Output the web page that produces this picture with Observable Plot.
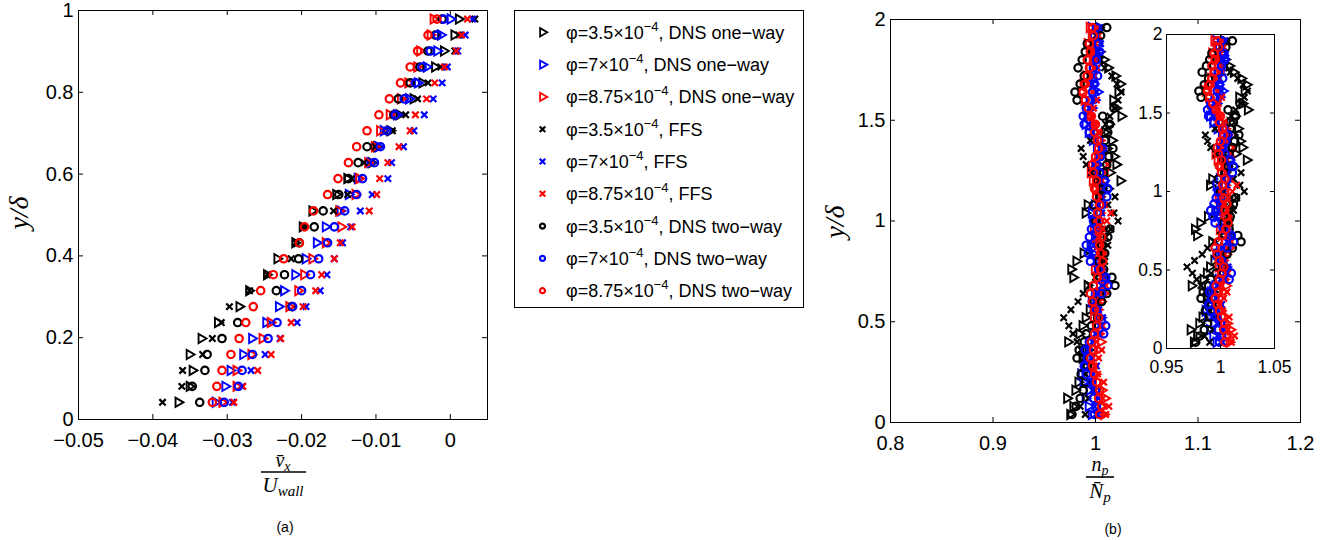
<!DOCTYPE html>
<html><head><meta charset="utf-8">
<script src="https://cdn.jsdelivr.net/npm/d3@7"></script>
<script src="https://cdn.jsdelivr.net/npm/@observablehq/plot@0.6"></script>
<style>
html,body{margin:0;padding:0;background:#fff;}
#wrap{position:relative;width:1339px;height:540px;overflow:hidden;background:#fff;}
</style></head><body><div id="wrap"></div>
<script>
// ---------- Panel (a): y/delta rows and mean streamwise velocity ----------
const yA = [0.042,0.081,0.120,0.159,0.198,0.237,0.276,0.315,0.354,0.393,0.432,0.471,0.510,0.550,0.589,0.628,0.667,0.706,0.745,0.784,0.823,0.862,0.901,0.940,0.979];
const aTriBlack = [-0.0366,-0.0351,-0.0347,-0.0351,-0.0335,-0.0313,-0.0284,-0.0271,-0.0247,-0.0233,-0.0209,-0.0199,-0.0186,-0.0154,-0.0139,-0.0106,-0.0099,-0.0081,-0.0069,-0.0050,-0.0038,-0.0021,-0.0009,0.0005,0.0011];
const aTriBlue  = [-0.0316,-0.0303,-0.0296,-0.0279,-0.0267,-0.0248,-0.0231,-0.0224,-0.0209,-0.0195,-0.0180,-0.0168,-0.0148,-0.0137,-0.0125,-0.0108,-0.0097,-0.0090,-0.0072,-0.0056,-0.0044,-0.0032,-0.0018,-0.0013,0.0000];
const aTriRed   = [-0.0307,-0.0288,-0.0288,-0.0268,-0.0253,-0.0242,-0.0217,-0.0205,-0.0197,-0.0186,-0.0168,-0.0147,-0.0150,-0.0128,-0.0123,-0.0111,-0.0102,-0.0095,-0.0082,-0.0067,-0.0057,-0.0045,-0.0041,-0.0027,-0.0023];
const aXBlack   = [-0.0387,-0.0361,-0.0360,-0.0333,-0.0320,-0.0308,-0.0297,-0.0270,-0.0246,-0.0214,-0.0208,-0.0197,-0.0157,-0.0138,-0.0133,-0.0116,-0.0101,-0.0078,-0.0060,-0.0044,-0.0030,-0.0013,0.0006,0.0011,0.0033];
const aXBlue    = [-0.0293,-0.0280,-0.0268,-0.0249,-0.0229,-0.0206,-0.0194,-0.0175,-0.0166,-0.0156,-0.0145,-0.0134,-0.0121,-0.0105,-0.0084,-0.0079,-0.0063,-0.0049,-0.0035,-0.0023,-0.0011,-0.0004,0.0010,0.0020,0.0030];
const aXRed     = [-0.0291,-0.0279,-0.0259,-0.0241,-0.0228,-0.0214,-0.0198,-0.0181,-0.0173,-0.0156,-0.0148,-0.0132,-0.0109,-0.0099,-0.0095,-0.0084,-0.0069,-0.0054,-0.0047,-0.0032,-0.0021,-0.0008,0.0008,0.0015,0.0023];
const aCircBlack= [-0.0337,-0.0347,-0.0330,-0.0327,-0.0307,-0.0286,-0.0213,-0.0234,-0.0223,-0.0204,-0.0203,-0.0183,-0.0171,-0.0150,-0.0137,-0.0124,-0.0112,-0.0085,-0.0076,-0.0070,-0.0054,-0.0041,-0.0030,-0.0020,-0.0011];
const aCircBlue = [-0.0304,-0.0285,-0.0280,-0.0266,-0.0245,-0.0233,-0.0212,-0.0200,-0.0188,-0.0177,-0.0165,-0.0156,-0.0142,-0.0126,-0.0118,-0.0102,-0.0094,-0.0085,-0.0074,-0.0062,-0.0047,-0.0038,-0.0027,-0.0018,-0.0009];
const aCircRed  = [-0.0320,-0.0314,-0.0307,-0.0295,-0.0284,-0.0275,-0.0265,-0.0255,-0.0238,-0.0224,-0.0203,-0.0196,-0.0184,-0.0165,-0.0151,-0.0137,-0.0126,-0.0112,-0.0096,-0.0082,-0.0067,-0.0054,-0.0044,-0.0030,-0.0018];

// ---------- Panel (b): y/delta rows and normalised concentration ----------
const yB = [0.04,0.08,0.12,0.16,0.20,0.24,0.28,0.32,0.36,0.40,0.44,0.48,0.52,0.56,0.60,0.64,0.68,0.72,0.76,0.80,0.84,0.88,0.92,0.96,1.00,1.04,1.08,1.12,1.16,1.20,1.24,1.28,1.32,1.36,1.40,1.44,1.48,1.52,1.56,1.60,1.64,1.68,1.72,1.76,1.80,1.84,1.88,1.92,1.96];
const bTriBlack = [0.975,0.978,0.972,0.980,0.983,0.986,0.989,0.987,0.993,0.973, 0.984,0.987,0.990,0.994,0.998,1.003,0.992,0.978,0.976,0.981, 0.988,0.995,1.001,1.006,0.998,0.990,0.992,1.004,1.012,1.024, 1.014,1.020,1.018,1.011,1.016,1.009,1.013,1.025,1.020,1.017, 1.022,1.024,1.019,1.012,1.008,1.004,1.001,0.998,1.003];
const bTriBlue  = [0.996,0.993,0.990,0.994,0.988,0.986,0.990,0.993,0.991,0.995, 0.998,1.002,1.005,1.000,0.996,0.999,1.004,1.008,1.005,1.001, 0.997,0.995,0.999,1.002,1.000,0.996,0.999,1.003,1.006,1.008, 1.005,1.002,1.004,1.001,0.997,0.993,0.990,0.992,0.996,0.999, 1.002,0.998,0.995,0.997,1.000,1.003,1.001,0.998,0.996];
const bTriRed   = [1.008,1.005,1.009,1.006,1.003,1.000,0.997,0.999,1.002,1.005, 1.003,1.000,0.998,1.002,1.005,1.008,1.004,1.001,0.999,1.003, 1.006,1.002,1.000,0.998,1.001,1.004,1.007,1.003,1.000,0.997, 0.995,0.999,1.002,1.006,1.004,1.001,0.997,0.994,0.991,0.989, 0.986,0.988,0.991,0.994,0.997,0.995,0.992,0.996,0.994];
const bXBlack   = [0.990,0.985,0.993,0.998,0.995,0.990,0.994,0.989,0.986,0.982, 0.978,0.974,0.969,0.976,0.983,0.988,0.994,1.000,1.004,1.009, 1.007,1.012,1.010,1.015,1.022,1.018,1.012,1.019,1.008,1.004, 0.996,0.991,0.988,0.986,0.995,1.003,1.010,1.014,1.019,1.022, 1.025,1.021,1.016,1.009,1.005,1.002,0.998,1.001,1.006];
const bXBlue    = [1.002,0.999,1.003,0.997,0.994,0.998,1.001,0.996,0.993,0.997, 1.000,1.004,1.007,1.003,0.999,1.002,1.006,1.009,1.004,1.000, 0.996,0.998,1.001,0.999,1.003,1.006,1.002,1.005,1.009,1.006, 1.002,0.999,1.003,1.006,1.001,0.997,0.993,0.991,0.994,0.998, 1.001,0.997,0.999,1.002,1.000,1.003,1.005,1.002,1.004];
const bXRed     = [1.010,1.013,1.007,1.004,1.008,1.002,0.999,1.003,1.006,1.001, 1.004,1.007,1.003,1.000,1.004,1.007,1.010,1.006,1.002,1.005, 1.008,1.006,1.003,1.007,1.011,1.015,1.009,1.005,1.002,1.006, 1.010,1.012,1.008,1.004,1.001,1.003,0.999,0.996,0.998,1.001, 0.997,0.994,0.998,1.001,0.999,0.996,1.000,1.003,1.001];
const bCircBlack= [0.977,0.981,0.985,0.988,0.990,0.986,0.992,0.982,0.984,0.989, 0.991,0.996,1.002,0.999,1.006,1.011,1.019,1.016,1.008,1.003, 1.009,1.006,1.012,1.014,1.000,1.003,0.998,1.004,1.007,1.002, 1.008,1.011,1.013,1.017,1.009,1.012,1.014,1.007,1.018,0.982, 0.980,0.985,0.989,0.983,0.987,0.990,0.992,1.005,1.011];
const bCircBlue = [0.999,1.001,0.998,1.000,0.996,0.991,0.989,0.992,0.990,0.994, 1.008,1.010,1.004,1.001,0.997,1.006,1.012,1.010,1.003,0.995, 0.993,0.991,0.994,0.996,0.998,1.003,1.006,1.011,1.012,1.009, 1.004,1.001,1.005,1.007,1.003,0.994,0.989,0.988,0.991,0.995, 0.997,0.999,1.002,0.998,1.001,1.004,1.003,0.999,1.001];
const bCircRed  = [1.004,1.006,1.003,1.004,1.001,0.999,0.997,0.995,0.998,0.996, 0.999,1.001,1.003,0.999,0.997,0.995,0.998,1.002,1.005,1.007, 1.005,1.004,1.006,1.003,1.004,1.002,1.004,1.001,0.999,1.001, 0.998,0.997,1.000,1.003,1.002,0.999,1.000,0.996,0.993,0.990, 0.988,0.990,0.992,0.994,0.992,0.995,0.994,0.998,0.997];

// ---------- ticks and legend text ----------
const xTicksA = [-0.05,-0.04,-0.03,-0.02,-0.01,0];
const yTicksA = [0,0.2,0.4,0.6,0.8,1];
const xTicksB = [0.8,0.9,1,1.1,1.2];
const yTicksB = [0,0.5,1,1.5,2];
const xTicksInset = [0.95,1,1.05];
const yTicksInset = [0,0.5,1,1.5,2];
const legendPhi = ["3.5","7","8.75","3.5","7","8.75","3.5","7","8.75"];
const legendMethod = ["DNS one\u2212way","DNS one\u2212way","DNS one\u2212way","FFS","FFS","FFS","DNS two\u2212way","DNS two\u2212way","DNS two\u2212way"];

const COL = {black:"#000000", blue:"#0000ff", red:"#ff0000"};
const seriesA = [
  ["tri","black",aTriBlack],["tri","blue",aTriBlue],["tri","red",aTriRed],
  ["x","black",aXBlack],["x","blue",aXBlue],["x","red",aXRed],
  ["circ","black",aCircBlack],["circ","blue",aCircBlue],["circ","red",aCircRed]];
const seriesB = [
  ["tri","black",bTriBlack],["tri","blue",bTriBlue],["tri","red",bTriRed],
  ["x","black",bXBlack],["x","blue",bXBlue],["x","red",bXRed],
  ["circ","black",bCircBlack],["circ","blue",bCircBlue],["circ","red",bCircRed]];

const FONT = "'Liberation Sans', Arial, Helvetica, sans-serif";
const fmt = d => (d < 0 ? "\u2212" : "") + String(+Math.abs(d).toFixed(4));

function dots(ys, vals, sym, color) {
  const data = vals.map((v, i) => ({x: v, y: ys[i]}));
  const base = {x: "x", y: "y", stroke: COL[color], fill: "none"};
  if (sym === "tri") return Plot.dot(data, {...base, symbol: d3.symbolTriangle, rotate: 90, r: 3.4, strokeWidth: 1.9});
  if (sym === "x") return Plot.dot(data, {...base, symbol: d3.symbolTimes, r: 3.0, strokeWidth: 2.2});
  return Plot.dot(data, {...base, symbol: d3.symbolCircle, r: 3.7, strokeWidth: 2.2});
}
function boxTicks(xt, yt, W, H, len) {
  return [
    Plot.tickX(xt, {x: d => d, insetTop: H - len, stroke: "black"}),
    Plot.tickX(xt, {x: d => d, insetBottom: H - len, stroke: "black"}),
    Plot.tickY(yt, {y: d => d, insetRight: W - len, stroke: "black"}),
    Plot.tickY(yt, {y: d => d, insetLeft: W - len, stroke: "black"})
  ];
}
function panel({left, right, top, bottom, xd, yd, xt, yt, series, ys, fs, padX, padY, tickLen, bg}) {
  const W = right - left, H = bottom - top;
  return Plot.plot({
    width: 1339, height: 540,
    marginLeft: left, marginRight: 1339 - right, marginTop: top, marginBottom: 540 - bottom,
    x: {domain: xd}, y: {domain: yd},
    style: {position: "absolute", left: "0px", top: "0px", background: "transparent", overflow: "visible", fontSize: fs + "px", fontFamily: FONT, color: "black"},
    marks: [
      bg ? Plot.frame({fill: "white"}) : null,
      ...series.map(([s, c, v]) => dots(ys, v, s, c)),
      ...boxTicks(xt, yt, W, H, tickLen),
      Plot.frame({stroke: "black", strokeWidth: 1}),
      Plot.axisX({ticks: xt, tickSize: 0, tickPadding: padX, tickFormat: fmt, label: null}),
      Plot.axisY({ticks: yt, tickSize: 0, tickPadding: padY, tickFormat: fmt, label: null})
    ]
  });
}

const wrap = document.getElementById("wrap");
wrap.appendChild(panel({left: 78, right: 487, top: 10, bottom: 419, xd: [-0.05, 0.005], yd: [0, 1], xt: xTicksA, yt: yTicksA, series: seriesA, ys: yA, fs: 20, padX: 13, padY: 5, tickLen: 5}));
wrap.appendChild(panel({left: 890, right: 1300, top: 19, bottom: 422, xd: [0.8, 1.2], yd: [0, 2], xt: xTicksB, yt: yTicksB, series: seriesB, ys: yB, fs: 20, padX: 13, padY: 5, tickLen: 5}));
wrap.appendChild(panel({left: 1166, right: 1274, top: 34, bottom: 348, xd: [0.95, 1.05], yd: [0, 2], xt: xTicksInset, yt: yTicksInset, series: seriesB, ys: yB, fs: 17.5, padX: 12, padY: 4, tickLen: 4, bg: true}));

// ---------- overlay: axis titles, captions, legend ----------
const ov = d3.select(wrap).append("svg")
  .attr("width", 1339).attr("height", 540)
  .style("position", "absolute").style("left", "0px").style("top", "0px");
const SERIF = "'Liberation Serif', 'Times New Roman', serif";

function ylab(x, y) {
  ov.append("text").attr("transform", `translate(${x},${y}) rotate(-90)`)
    .attr("text-anchor", "middle").attr("font-family", SERIF).attr("font-style", "italic")
    .attr("font-size", 28).text("y/\u03b4");
}
ylab(28, 213);
ylab(844, 222);

// (a) fraction
let t = ov.append("text").attr("x", 283).attr("y", 467).attr("text-anchor", "middle")
  .attr("font-family", SERIF).attr("font-style", "italic").attr("font-size", 20);
t.append("tspan").text("v\u0304");
t.append("tspan").attr("font-size", 14).attr("dy", 4).text("x");
ov.append("line").attr("x1", 261).attr("x2", 306).attr("y1", 472).attr("y2", 472).attr("stroke", "black").attr("stroke-width", 1.6);
t = ov.append("text").attr("x", 283).attr("y", 492).attr("text-anchor", "middle")
  .attr("font-family", SERIF).attr("font-style", "italic").attr("font-size", 21);
t.append("tspan").text("U");
t.append("tspan").attr("font-size", 15).attr("dy", 4).text("wall");

// (b) fraction
t = ov.append("text").attr("x", 1100).attr("y", 471).attr("text-anchor", "middle")
  .attr("font-family", SERIF).attr("font-style", "italic").attr("font-size", 20);
t.append("tspan").text("n");
t.append("tspan").attr("font-size", 14).attr("dy", 4).text("p");
ov.append("line").attr("x1", 1086).attr("x2", 1114).attr("y1", 477).attr("y2", 477).attr("stroke", "black").attr("stroke-width", 1.6);
t = ov.append("text").attr("x", 1100).attr("y", 498).attr("text-anchor", "middle")
  .attr("font-family", SERIF).attr("font-style", "italic").attr("font-size", 21);
t.append("tspan").text("N\u0304");
t.append("tspan").attr("font-size", 15).attr("dy", 4).text("p");

// captions
ov.append("text").attr("x", 285).attr("y", 532).attr("text-anchor", "middle").attr("font-family", FONT).attr("font-size", 14).text("(a)");
ov.append("text").attr("x", 1113).attr("y", 534).attr("text-anchor", "middle").attr("font-family", FONT).attr("font-size", 14).text("(b)");

// legend
const lg = ov.append("g");
lg.append("rect").attr("x", 514.5).attr("y", 10.5).attr("width", 289).attr("height", 297)
  .attr("fill", "white").attr("stroke", "black").attr("stroke-width", 1);
seriesA.forEach(([sym, color], k) => {
  const cy = 32.3 + 32.3 * k;
  let path, rot = 0, sw = 1.8;
  if (sym === "tri") { path = d3.symbol(d3.symbolTriangle, 30)(); rot = 90; }
  else if (sym === "x") { path = d3.symbol(d3.symbolTimes, 22)(); sw = 2.2; }
  else { path = d3.symbol(d3.symbolCircle, 20)(); sw = 2.2; }
  lg.append("path").attr("d", path).attr("transform", `translate(542.5,${cy}) rotate(${rot})`)
    .attr("fill", "none").attr("stroke", COL[color]).attr("stroke-width", sw);
  const tx = lg.append("text").attr("x", 566).attr("y", cy + 6.5).attr("font-family", FONT).attr("font-size", 18);
  tx.append("tspan").text("\u03c6=" + legendPhi[k] + "\u00d710");
  tx.append("tspan").attr("font-size", 13).attr("dy", -8).text("\u22124");
  tx.append("tspan").attr("dy", 8).text(", " + legendMethod[k]);
});
</script>
</body></html>
